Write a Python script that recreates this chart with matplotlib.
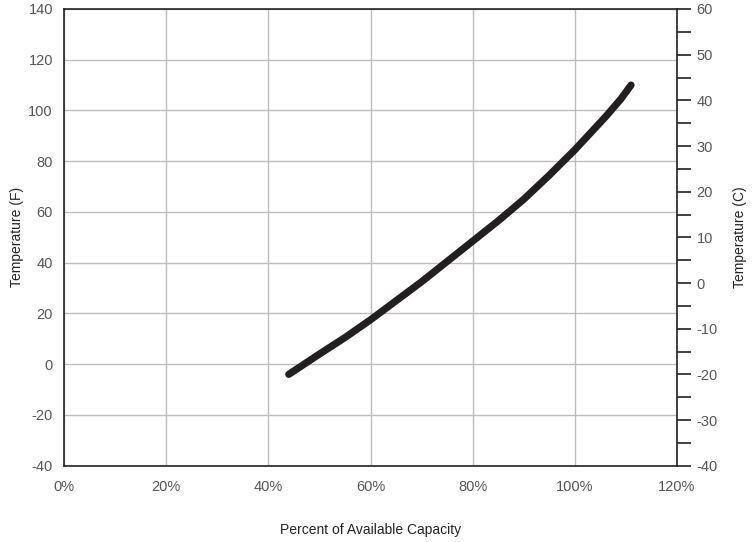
import matplotlib
matplotlib.use("Agg")
import matplotlib.pyplot as plt
from matplotlib.ticker import MultipleLocator, FuncFormatter

# === DATA ===
capacity_pct = [44, 50, 55, 60, 65, 70, 75, 80, 85, 90, 95, 100, 103, 106, 109, 111]
temp_f = [-4, 4, 10.5, 17.5, 25, 32.5, 40.5, 48.5, 56.5, 65, 74.5, 84.5, 91, 97.5, 104.5, 110]

x_ticks = [0, 20, 40, 60, 80, 100, 120]
f_ticks = [-40, -20, 0, 20, 40, 60, 80, 100, 120, 140]
c_ticks = [-40, -30, -20, -10, 0, 10, 20, 30, 40, 50, 60]

TICK_COLOR = "#555555"
GRID_COLOR = "#bdbdbd"
LINE_COLOR = "#231f20"
TICK_FONT = ["Liberation Sans", "DejaVu Sans"]

plt.rcParams['font.family'] = TICK_FONT
plt.rcParams['axes.unicode_minus'] = False

fig = plt.figure(figsize=(7.56, 5.42), dpi=100)
ax = fig.add_axes([0.0847, 0.1408, 0.8108, 0.8426])

ax.plot(capacity_pct, temp_f, color=LINE_COLOR, lw=5.2, solid_capstyle='round',
        solid_joinstyle='round', zorder=3)

ax.set_xlim(0, 120)
ax.set_ylim(-40, 140)
ax.set_xticks(x_ticks)
ax.set_yticks(f_ticks)
ax.xaxis.set_major_formatter(FuncFormatter(lambda v, p: f"{v:.0f}%"))
ax.grid(True, color=GRID_COLOR, lw=1.0, zorder=0)
ax.tick_params(axis='both', length=0, labelsize=10.5, labelcolor=TICK_COLOR)
ax.tick_params(axis='y', pad=8)
ax.tick_params(axis='x', pad=10)
for s in ax.spines.values():
    s.set_color("#222222")
    s.set_linewidth(1.2)

ax.set_xlabel("Percent of Available Capacity", fontsize=10, color="#222222", va='center')
ax.xaxis.set_label_coords(0.5, -0.141)
ax.set_ylabel("Temperature (F)", fontsize=10, color="#222222", va='center')
ax.yaxis.set_label_coords(-0.077, 0.5)

# right axis in Celsius
ax2 = ax.twinx()
ax2.set_ylim(-40, 60)
ax2.set_yticks(c_ticks)
ax2.yaxis.set_minor_locator(MultipleLocator(5))
ax2.tick_params(axis='y', which='both', direction='out', length=10, width=1.2,
                color="#222222", labelsize=10.5, labelcolor=TICK_COLOR, pad=4)
for s in ax2.spines.values():
    s.set_visible(False)
ax2.set_ylabel("Temperature (C)", fontsize=10, color="#222222", va='center')
ax2.yaxis.set_label_coords(1.103, 0.5)

plt.savefig("out.png", dpi=100)
plt.close()
